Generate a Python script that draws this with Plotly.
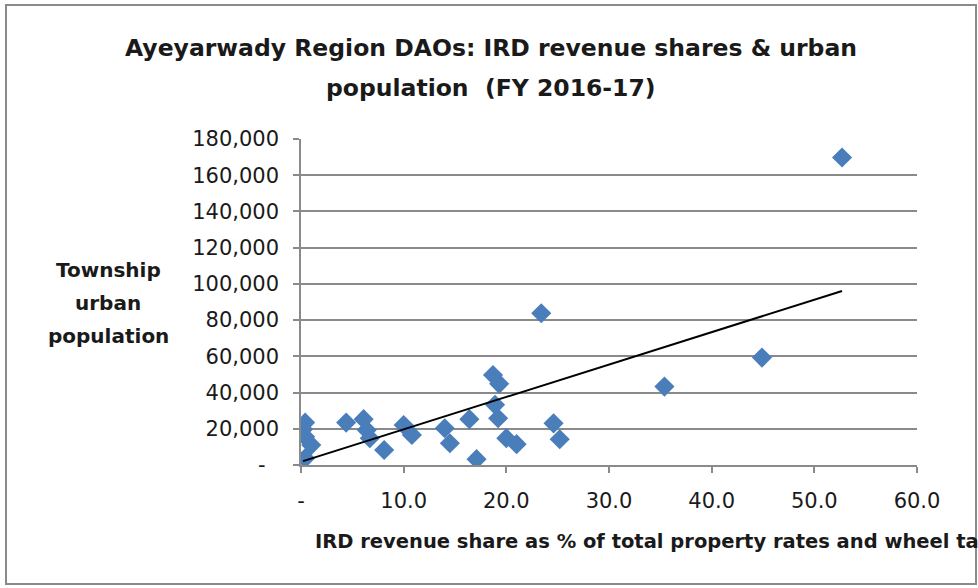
import numpy as np
import plotly.graph_objects as go

# IRD revenue share (% of total property rates and wheel tax)
ird_share = [0.4, 0.2, 0.4, 1.0, 0.4,
             4.4, 6.1, 6.4, 6.7, 8.1,
             10.0, 10.8, 14.0, 14.5, 16.4, 17.1,
             18.7, 19.3, 18.9, 19.2, 20.0, 21.0,
             23.4, 24.6, 25.2, 35.4, 44.9, 52.7]
# Township urban population
urban_pop = [23400, 19700, 15600, 11000, 3700,
             23400, 25300, 19300, 14800, 8300,
             22100, 16600, 20300, 12000, 25300, 3200,
             49700, 44800, 33200, 25800, 14800, 11500,
             83800, 23000, 14200, 43300, 59300, 169800]

x_ticks = [0, 10, 20, 30, 40, 50, 60]
x_ticktext = ["-", "10.0", "20.0", "30.0", "40.0", "50.0", "60.0"]
y_ticks = [0, 20000, 40000, 60000, 80000, 100000, 120000, 140000, 160000, 180000]
y_ticktext = ["-\u00a0\u00a0", "20,000", "40,000", "60,000", "80,000", "100,000",
              "120,000", "140,000", "160,000", "180,000"]

title_line1 = "Ayeyarwady Region DAOs: IRD revenue shares & urban"
title_line2 = "population  (FY 2016-17)"
y_title_lines = ["Township", "urban", "population"]
x_title = "IRD revenue share as % of total property rates and wheel tax"

FONT = "DejaVu Sans"
W, H = 978, 588
L, R, T, B = 301, 917, 139, 465

# linear trend line
slope, intercept = np.polyfit(ird_share, urban_pop, 1)
tx = np.array([min(ird_share), max(ird_share)])
ty = slope * tx + intercept

fig = go.Figure()
fig.add_trace(go.Scatter(x=ird_share, y=urban_pop, mode="markers",
                         marker=dict(symbol="diamond", size=15.5, color="#4A7EBB",
                                     line=dict(width=0)),
                         showlegend=False, hoverinfo="x+y"))
fig.add_trace(go.Scatter(x=tx, y=ty, mode="lines",
                         line=dict(color="#000000", width=2),
                         showlegend=False, hoverinfo="skip"))

def px_x(p):
    return (p - L) / (R - L)

def px_y(p):
    return (B - p) / (B - T)

fig.update_layout(
    width=W, height=H,
    margin=dict(l=L, r=W - R, t=T, b=H - B, pad=0),
    paper_bgcolor="white", plot_bgcolor="white",
    font=dict(family=FONT, color="#1a1a1a"),
    xaxis=dict(range=[0, 60], tickvals=x_ticks, ticktext=x_ticktext,
               showgrid=False, zeroline=False,
               showline=True, linecolor="#8a8a8a", linewidth=1.5,
               ticks="outside", ticklen=6, tickcolor="#8a8a8a", tickwidth=1.5,
               tickfont=dict(size=21, family=FONT, color="#1a1a1a"),
               ticklabelstandoff=10),
    yaxis=dict(range=[0, 180000], tickvals=y_ticks, ticktext=y_ticktext,
               showgrid=True, gridcolor="#8a8a8a", gridwidth=1.5,
               zeroline=False,
               showline=True, linecolor="#8a8a8a", linewidth=1.5,
               ticks="outside", ticklen=6, tickcolor="#8a8a8a", tickwidth=1.5,
               tickfont=dict(size=21, family=FONT, color="#1a1a1a"),
               ticklabelstandoff=10),
)

ann_font_title = dict(family=FONT, size=23.5, color="#1a1a1a", weight="bold")
fig.add_annotation(text=title_line1, xref="paper", yref="paper",
                   x=px_x(491), y=px_y(48), xanchor="center", yanchor="middle",
                   showarrow=False, font=ann_font_title)
fig.add_annotation(text=title_line2, xref="paper", yref="paper",
                   x=px_x(491), y=px_y(88), xanchor="center", yanchor="middle",
                   showarrow=False, font=ann_font_title)
for txt, yc in zip(y_title_lines, [270, 303, 336]):
    fig.add_annotation(text=txt, xref="paper", yref="paper",
                       x=px_x(108), y=px_y(yc), xanchor="center", yanchor="middle",
                       showarrow=False,
                       font=dict(family=FONT, size=20, color="#1a1a1a", weight="bold"))
fig.add_annotation(text=x_title, xref="paper", yref="paper",
                   x=px_x(313), y=px_y(541), xanchor="left", yanchor="middle",
                   showarrow=False,
                   font=dict(family=FONT, size=19.5, color="#1a1a1a", weight="bold"))

# chart frame
fig.add_shape(type="rect", xref="paper", yref="paper",
              x0=px_x(6), x1=px_x(976), y0=px_y(584), y1=px_y(5),
              line=dict(color="#8a8a8a", width=2), fillcolor="rgba(0,0,0,0)",
              layer="above")

fig.write_html("out.html", config={"displayModeBar": False},
               post_script="document.body.style.margin='0';document.body.style.overflow='hidden';")
